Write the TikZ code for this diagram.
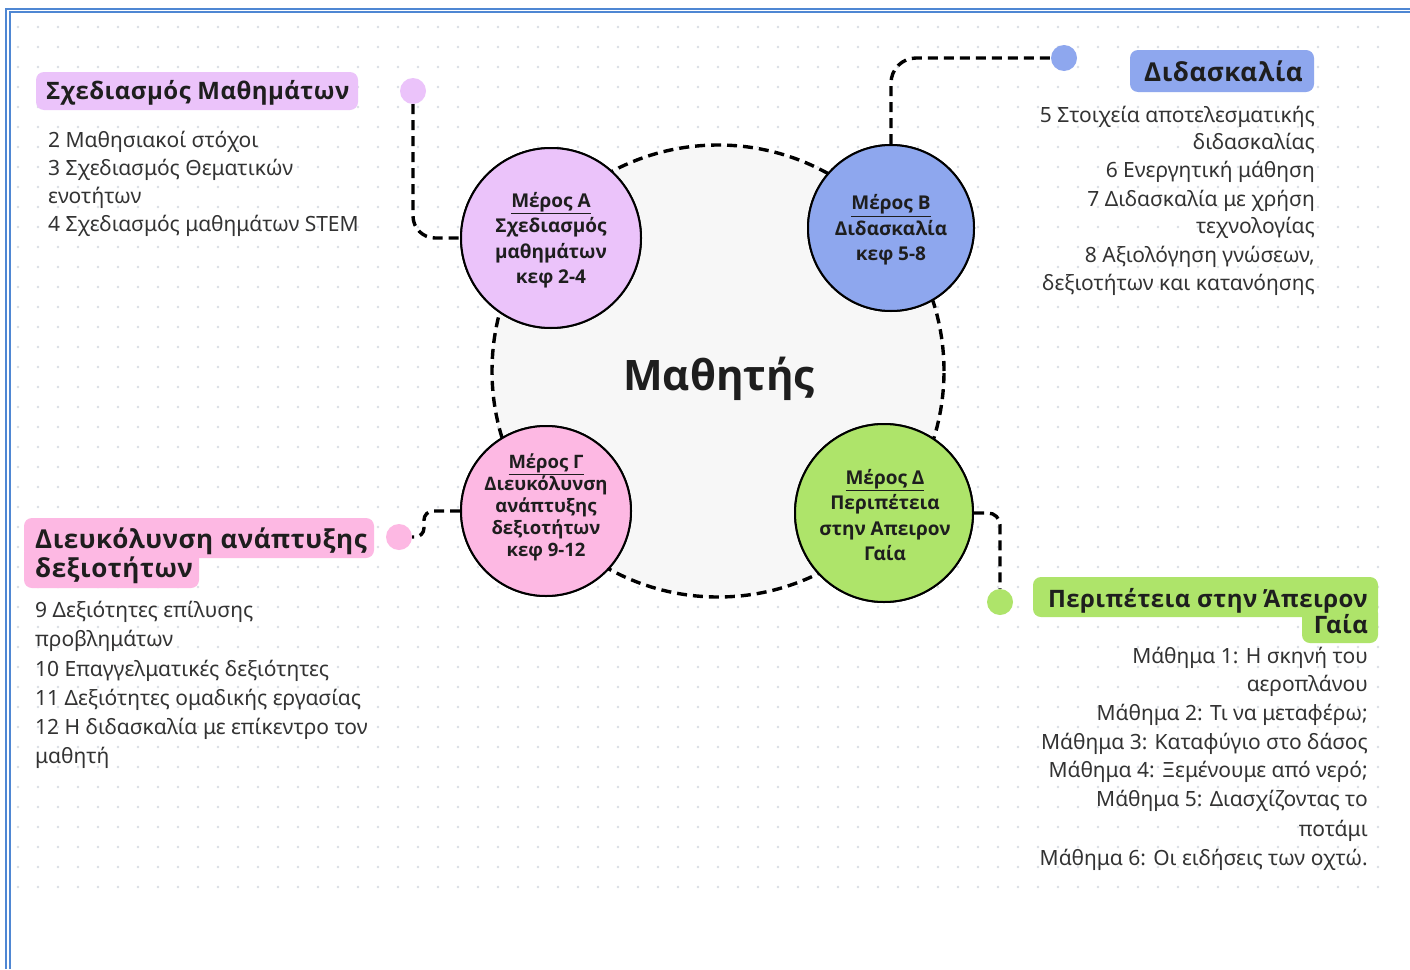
\documentclass[tikz,border=0pt]{standalone}
\usepackage{fontspec}
\setmainfont{Noto Sans}
\newfontfamily\circfont{Open Sans}
\newfontfamily\headfont{Open Sans}[LetterSpace=2]
\definecolor{pA}{HTML}{EBC3FA}
\definecolor{pB}{HTML}{8EA7EE}
\definecolor{pG}{HTML}{FDB8E3}
\definecolor{pD}{HTML}{AEE46A}
\definecolor{mainf}{HTML}{F7F7F7}
\definecolor{frame}{HTML}{4F87D3}
\definecolor{dotc}{HTML}{DADDE4}
\definecolor{txt}{HTML}{1E1E1E}
\definecolor{bodyc}{HTML}{333333}
\begin{document}
\begin{tikzpicture}[x=1pt,y=-1pt,
  conn/.style={draw=black, line width=3.4pt, dash pattern=on 10pt off 6pt},
  part/.style={circle, draw=black, line width=2pt, inner sep=0pt},
  enddot/.style={circle, inner sep=0pt, minimum size=26pt},
  ctext/.style={align=center, inner sep=0pt, text=txt, font=\circfont\bfseries\fontsize{19}{25.5}\selectfont},
  head/.style={inner sep=0pt, text=txt, font=\headfont\bfseries\fontsize{24}{29}\selectfont},
  headbig/.style={inner sep=0pt, text=txt, font=\headfont\bfseries\fontsize{26}{29}\selectfont},
  body/.style={inner sep=0pt, text=bodyc, font=\fontsize{21}{28}\selectfont}]
\fill[white] (0,0) rectangle (1410,969);
\useasboundingbox (0,0) rectangle (1410,969);
% frame
\draw[frame, line width=2pt] (6,969) -- (6,8.5) -- (1410,8.5);
\draw[frame, line width=2pt] (9.5,969) -- (9.5,12) -- (1410,12);
% dot grid
\foreach \i in {0,...,68}{\foreach \j in {0,...,43}{\fill[dotc] (18+20*\i,27+20*\j) circle (1.3);}}
% central circle
\node[circle, fill=mainf, conn, minimum size=452pt, inner sep=0pt] (M) at (718,371) {};
\node[inner sep=0pt, anchor=base, text=txt, font=\circfont\bfseries\fontsize{42}{50}\selectfont] (Mt) at (719,390) {Μαθητής};
% end dots
\node[enddot, fill=pA] (Adot) at (413,91) {};
\node[enddot, fill=pB] (Bdot) at (1064,58) {};
\node[enddot, fill=pG] (Gdot) at (399,537) {};
\node[enddot, fill=pD] (Ddot) at (1000,602) {};
% part circles (positions)
\node[part, fill=pA, minimum size=180pt] (A) at (551,238) {};
\node[part, fill=pB, minimum size=166pt] (B) at (891,228) {};
\node[part, fill=pG, minimum size=170pt] (G) at (546,511) {};
\node[part, fill=pD, minimum size=178pt] (D) at (884,513) {};
% connectors
\draw[conn, rounded corners=22pt] (Adot.south) |- (A.west);
\draw[conn, rounded corners=25pt] (B.north) |- (Bdot.west);
\draw[conn, rounded corners=9pt] (G.west) -- ++(-36,0) |- (Gdot.east);
\draw[conn, rounded corners=12pt] (D.east) -| (Ddot.north);
% redraw circles over connector ends
\node[part, fill=pA, minimum size=180pt] at (A) {};
\node[part, fill=pB, minimum size=166pt] at (B) {};
\node[part, fill=pG, minimum size=170pt] at (G) {};
\node[part, fill=pD, minimum size=178pt] at (D) {};
% circle texts
\node[ctext] (At) at (551,240) {\underline{Μέρος Α}\\Σχεδιασμός\\μαθημάτων\\κεφ 2-4};
\node[ctext] (Bt) at (891,230) {\underline{Μέρος Β}\\Διδασκαλία\\κεφ 5-8};
\node[ctext, font=\circfont\bfseries\fontsize{18.5}{22}\selectfont] (Gt) at (546,507) {\underline{Μέρος Γ}\\Διευκόλυνση\\ανάπτυξης\\δεξιοτήτων\\κεφ 9-12};
\node[ctext] (Dt) at (885,515) {\underline{Μέρος Δ}\\Περιπέτεια\\στην Απειρον\\Γαία};
% heading boxes
\fill[pA, rounded corners=8pt] (36,72) rectangle (358,110);
\node[head, anchor=base west] (hA) at (46,99) {Σχεδιασμός Μαθημάτων};
\fill[pB, rounded corners=8pt] (1130,50) rectangle (1314,92);
\node[headbig, anchor=base east] (hB) at (1303,81) {Διδασκαλία};
\fill[pG, rounded corners=8pt] (24,518) rectangle (374,558);
\fill[pG, rounded corners=8pt] (24,545) rectangle (199,588);
\node[headbig, anchor=base west] (hG1) at (35,548) {Διευκόλυνση ανάπτυξης};
\node[headbig, anchor=base west] (hG2) at (35,577) {δεξιοτήτων};
\fill[pD, rounded corners=8pt] (1033,577) rectangle (1378,617);
\fill[pD, rounded corners=8pt] (1302,605) rectangle (1378,643);
\node[head, anchor=base east] (hD1) at (1368,607) {Περιπέτεια στην Άπειρον};
\node[head, anchor=base east] (hD2) at (1368,633) {Γαία};
% body A
\node[body, anchor=base west] (a1) at (48,147) {2 Μαθησιακοί στόχοι};
\node[body, anchor=base west] (a2) at (48,175) {3 Σχεδιασμός Θεματικών};
\node[body, anchor=base west] (a3) at (48,203) {ενοτήτων};
\node[body, anchor=base west] (a4) at (48,231) {4 Σχεδιασμός μαθημάτων STEM};
% body B
\node[body, anchor=base east] (b1) at (1315,122) {5 Στοιχεία αποτελεσματικής};
\node[body, anchor=base east] (b2) at (1315,149) {διδασκαλίας};
\node[body, anchor=base east] (b3) at (1315,177) {6 Ενεργητική μάθηση};
\node[body, anchor=base east] (b4) at (1315,206) {7 Διδασκαλία με χρήση};
\node[body, anchor=base east] (b5) at (1315,233) {τεχνολογίας};
\node[body, anchor=base east] (b6) at (1315,262) {8 Αξιολόγηση γνώσεων,};
\node[body, anchor=base east] (b7) at (1315,290) {δεξιοτήτων και κατανόησης};
% body G
\node[body, anchor=base west] (g1) at (35,617) {9 Δεξιότητες επίλυσης};
\node[body, anchor=base west] (g2) at (35,646) {προβλημάτων};
\node[body, anchor=base west] (g3) at (35,676) {10 Επαγγελματικές δεξιότητες};
\node[body, anchor=base west] (g4) at (35,705) {11 Δεξιότητες ομαδικής εργασίας};
\node[body, anchor=base west] (g5) at (35,734) {12 Η διδασκαλία με επίκεντρο τον};
\node[body, anchor=base west] (g6) at (35,763) {μαθητή};
% body D
\node[body, anchor=base east] (d1) at (1368,663) {Μάθημα 1: Η σκηνή του};
\node[body, anchor=base east] (d2) at (1368,691) {αεροπλάνου};
\node[body, anchor=base east] (d3) at (1368,720) {Μάθημα 2: Τι να μεταφέρω;};
\node[body, anchor=base east] (d4) at (1368,749) {Μάθημα 3: Καταφύγιο στο δάσος};
\node[body, anchor=base east] (d5) at (1368,777) {Μάθημα 4: Ξεμένουμε από νερό;};
\node[body, anchor=base east] (d6) at (1368,806) {Μάθημα 5: Διασχίζοντας το};
\node[body, anchor=base east] (d7) at (1368,836) {ποτάμι};
\node[body, anchor=base east] (d8) at (1368,865) {Μάθημα 6: Οι ειδήσεις των οχτώ.};
\end{tikzpicture}
\end{document}
